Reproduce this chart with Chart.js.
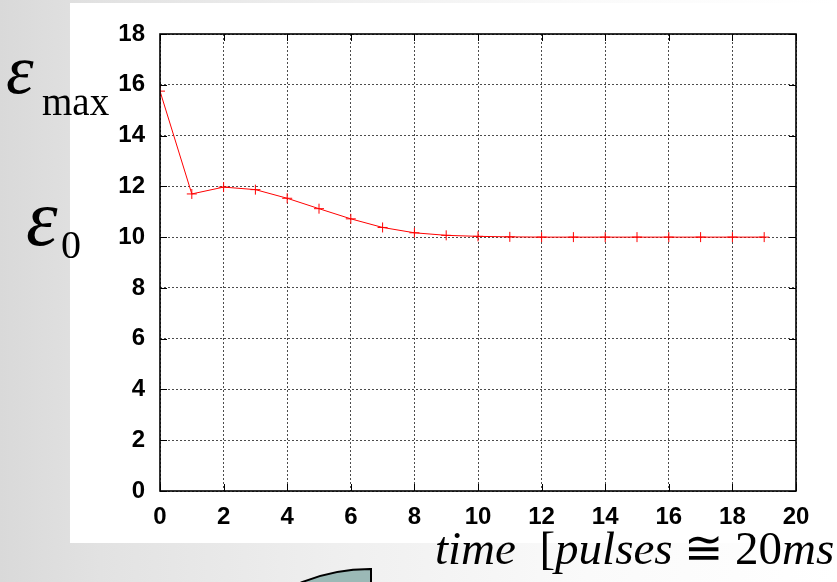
<!DOCTYPE html>
<html>
<head>
<meta charset="utf-8">
<script src="https://cdn.jsdelivr.net/npm/chart.js@4/dist/chart.umd.min.js"></script>
<style>
  body {
    margin: 0;
    width: 837px;
    height: 582px;
    overflow: hidden;
    position: relative;
    background: linear-gradient(to right, #d9d9d9 0%, #e2e2e2 12%, #efefef 40%, #fafafa 70%, #ffffff 100%);
  }
  #panel {
    position: absolute;
    left: 70px;
    top: 3px;
    width: 767px;
    height: 540px;
    background: #fff;
  }
  #blob {
    position: absolute;
    left: 188px;
    top: 568px;
    width: 180px;
    height: 180px;
    background: #9bb9b6;
    border: 2px solid #000;
    border-top-left-radius: 182px;
  }
  #chart {
    position: absolute;
    left: 0;
    top: 0;
  }
  .lbl {
    position: absolute;
    font-family: "Liberation Serif", "Times New Roman", serif;
    line-height: 1;
    color: #000;
    white-space: nowrap;
  }
</style>
</head>
<body>
<div id="panel"></div>
<div id="blob"></div>
<canvas id="chart" width="837" height="582"></canvas>

<span class="lbl" style="left:6px; top:35px; font-size:70px; font-style:italic;">ε</span>
<span class="lbl" style="left:42px; top:82px; font-size:39px;">max</span>
<span class="lbl" style="left:26px; top:178px; font-size:80px; font-style:italic;">ε</span>
<span class="lbl" style="left:61px; top:225px; font-size:40px;">0</span>
<span class="lbl" style="left:435px; top:525px; font-size:47px;"><i>time</i>&nbsp;&nbsp;[<i>pulses</i> ≅ 20<i>ms</i></span>

<script>
// Data
const pulses = [0, 1, 2, 3, 4, 5, 6, 7, 8, 9, 10, 11, 12, 13, 14, 15, 16, 17, 18, 19];
const strain = [15.75, 11.7, 11.97, 11.87, 11.53, 11.12, 10.72, 10.38, 10.17, 10.07, 10.03, 10.01, 10.0, 10.0, 10.0, 10.0, 10.0, 10.0, 10.0, 10.0];
const xTicks = [0, 2, 4, 6, 8, 10, 12, 14, 16, 18, 20];
const yTicks = [0, 2, 4, 6, 8, 10, 12, 14, 16, 18];

const points = pulses.map((p, i) => ({ x: p, y: strain[i] }));

// Frame around the plot plus gnuplot-style inward ticks on all four sides
const framePlugin = {
  id: 'frame',
  afterDraw(chart) {
    const ctx = chart.ctx;
    const a = chart.chartArea;
    const xs = chart.scales.x;
    const ys = chart.scales.y;
    ctx.save();
    ctx.strokeStyle = '#000';
    ctx.lineWidth = 1;
    ctx.beginPath();
    xTicks.forEach(v => {
      const px = Math.round(xs.getPixelForValue(v)) + 0.5;
      ctx.moveTo(px, a.bottom);
      ctx.lineTo(px, a.bottom - 7);
      ctx.moveTo(px, a.top);
      ctx.lineTo(px, a.top + 7);
    });
    yTicks.forEach(v => {
      const py = Math.round(ys.getPixelForValue(v)) + 0.5;
      ctx.moveTo(a.left, py);
      ctx.lineTo(a.left + 7, py);
      ctx.moveTo(a.right, py);
      ctx.lineTo(a.right - 7, py);
    });
    ctx.stroke();
    ctx.lineWidth = 1.6;
    ctx.strokeRect(a.left, a.top, a.right - a.left, a.bottom - a.top);
    ctx.restore();
  }
};

const tickFont = { family: 'Liberation Sans', size: 24, weight: 'bold' };

new Chart(document.getElementById('chart').getContext('2d'), {
  type: 'line',
  data: {
    datasets: [{
      data: points,
      borderColor: '#ff0000',
      borderWidth: 1,
      pointStyle: 'cross',
      pointRadius: 5,
      pointBorderColor: '#ff0000',
      pointBorderWidth: 1,
      tension: 0,
      fill: false
    }]
  },
  options: {
    responsive: false,
    animation: false,
    layout: { padding: { left: 0, top: 34, right: 41, bottom: 0 } },
    plugins: {
      legend: { display: false },
      tooltip: { enabled: false }
    },
    scales: {
      x: {
        type: 'linear',
        min: 0,
        max: 20,
        afterBuildTicks: s => { s.ticks = xTicks.map(v => ({ value: v })); },
        afterFit: s => { s.height = 91; },
        ticks: { color: '#000', font: tickFont, padding: 12, maxRotation: 0 },
        grid: { color: 'rgba(0,0,0,0.7)', lineWidth: 1, drawTicks: false },
        border: { display: false, dash: [2, 2] }
      },
      y: {
        type: 'linear',
        min: 0,
        max: 18,
        afterBuildTicks: s => { s.ticks = yTicks.map(v => ({ value: v })); },
        afterFit: s => { s.width = 160; },
        ticks: { color: '#000', font: tickFont, padding: 15 },
        grid: { color: 'rgba(0,0,0,0.7)', lineWidth: 1, drawTicks: false },
        border: { display: false, dash: [2, 2] }
      }
    }
  },
  plugins: [framePlugin]
});
</script>
</body>
</html>
